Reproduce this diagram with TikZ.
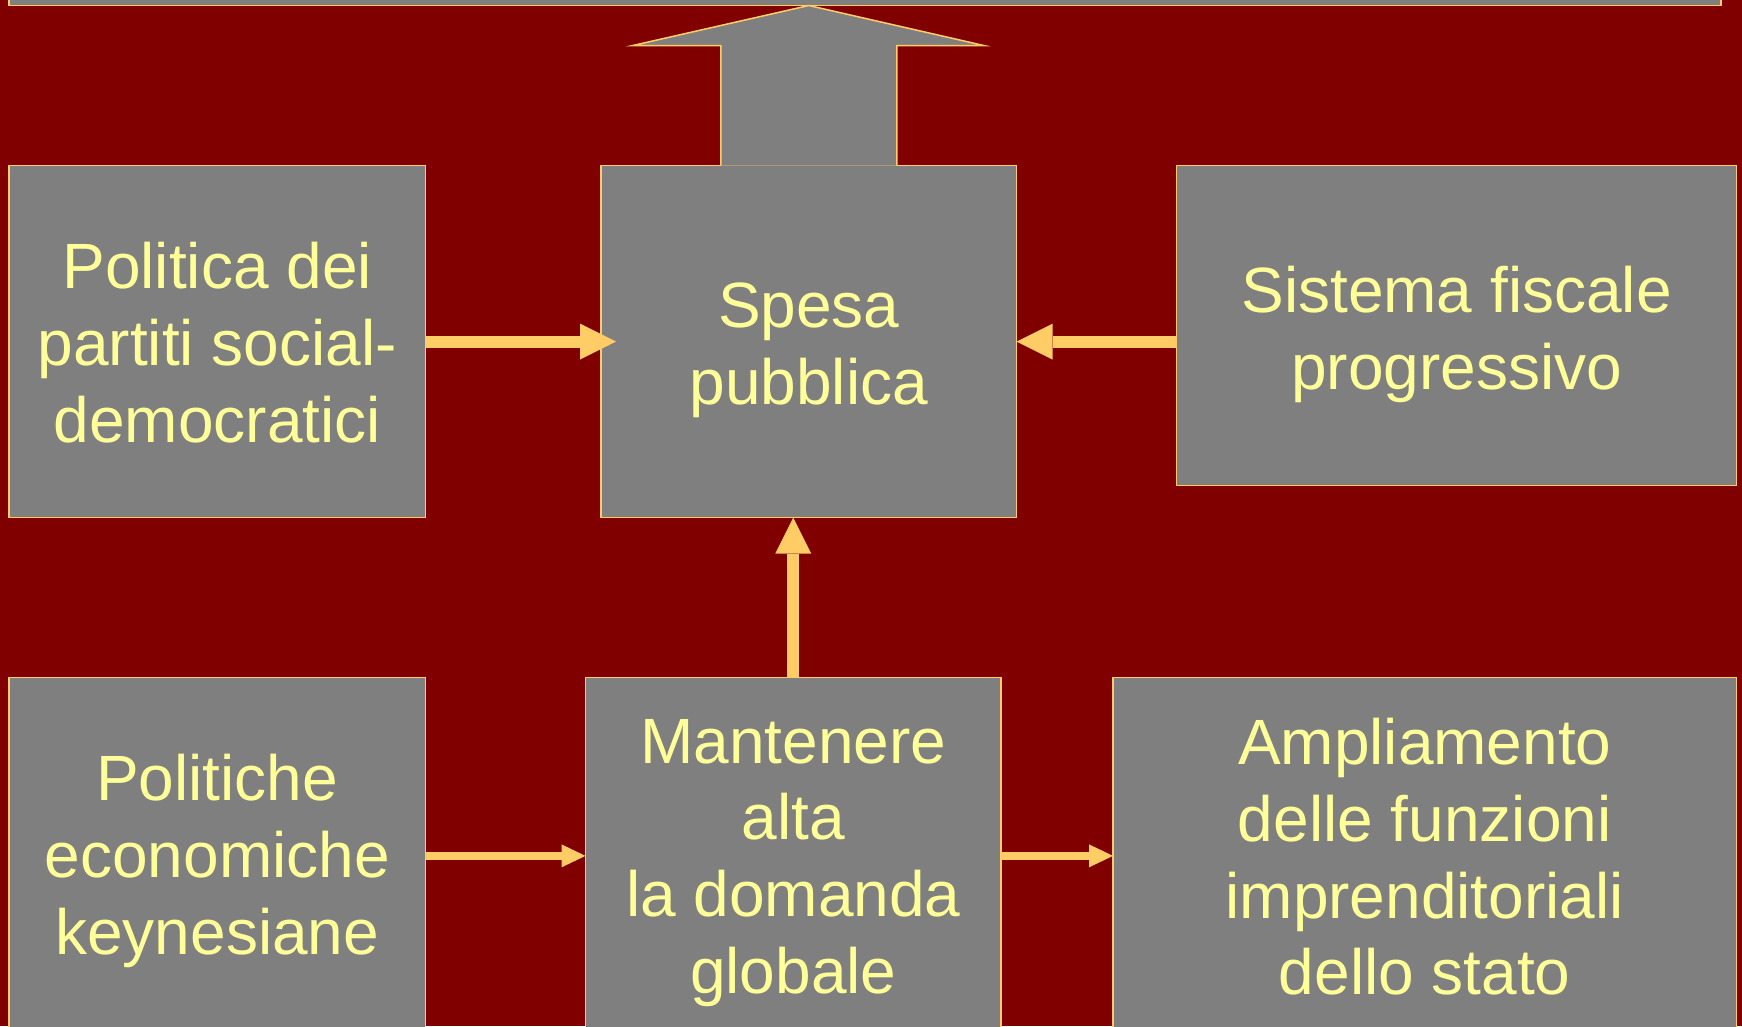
\documentclass[tikz,border=0pt]{standalone}
\usepackage{fontspec}
\setmainfont{Liberation Sans}
\usetikzlibrary{arrows.meta,calc}
\definecolor{bg}{HTML}{800000}
\definecolor{boxgray}{HTML}{7F7F7F}
\definecolor{edge}{HTML}{FFCC66}
\definecolor{txt}{HTML}{FFFF99}
\begin{document}
\begin{tikzpicture}[x=1pt,y=-1pt,
  box/.style={draw=edge,fill=boxgray,line width=1.5pt,inner sep=0pt,outer sep=0pt},
  boxtext/.style={text=txt,align=center,inner sep=0pt,font=\fontsize{64}{76.7}\selectfont},
  bigarrow/.style={draw=edge,fill=boxgray,line width=1.5pt,line join=miter},
  fatlink/.style={draw=edge,line width=12pt,-{Triangle[length=36pt,width=36pt,line width=0pt]}},
  thinlink/.style={draw=edge,line width=8pt,-{Triangle[length=24pt,width=23pt,line width=0pt]}}]
\useasboundingbox (0,0) rectangle (1742,1026);
\clip (0,0) rectangle (1742,1026);
\fill[bg] (0,0) rectangle (1742,1026);

\node[box,minimum width=1712pt,minimum height=65.5pt] (top) at (865,-27.25) {};

\node[box,minimum width=416.5pt,minimum height=352.2pt,
  label={[boxtext,yshift=-1pt]center:{Politica dei\\partiti social-\\democratici}}] (a) at (217.25,341.6) {};
\node[box,minimum width=415.6pt,minimum height=352.2pt,
  label={[boxtext,yshift=-9pt]center:{Spesa\\pubblica}}] (spesa) at (808.8,341.6) {};
\node[box,minimum width=560pt,minimum height=320pt,
  label={[boxtext,yshift=-9pt]center:{Sistema fiscale\\progressivo}}] (c) at (1456.5,325.5) {};

\node[box,minimum width=416.5pt,minimum height=356.3pt,
  label={[boxtext,yshift=-5pt]center:{Politiche\\economiche\\keynesiane}}] (d) at (217.25,855.85) {};
\node[box,minimum width=415.5pt,minimum height=356.3pt,
  label={[boxtext,yshift=-7pt]center:{Mantenere\\alta\\la domanda\\globale}}] (e) at (793.25,855.85) {};
\node[box,minimum width=623.5pt,minimum height=356.3pt,
  label={[boxtext,yshift=-1pt]center:{Ampliamento\\delle funzioni\\imprenditoriali\\dello stato}}] (f) at (1424.75,855.85) {};

\filldraw[bigarrow] ($(spesa.north)+(-88,0)$) -- ($(spesa.north)+(-88,-120)$)
  -- ($(spesa.north)+(-176,-120)$) -- (spesa.north |- top.south)
  -- ($(spesa.north)+(175,-120)$) -- ($(spesa.north)+(88,-120)$)
  -- ($(spesa.north)+(88,0)$);

\draw[fatlink] (a.east) -- ([xshift=15pt]spesa.west);
\draw[fatlink] (c.west |- spesa.east) -- (spesa.east);
\draw[fatlink] (e.north) -- (e.north |- spesa.south);
\draw[thinlink] (d.east) -- (e.west);
\draw[thinlink] (e.east) -- (f.west);
\end{tikzpicture}
\end{document}
